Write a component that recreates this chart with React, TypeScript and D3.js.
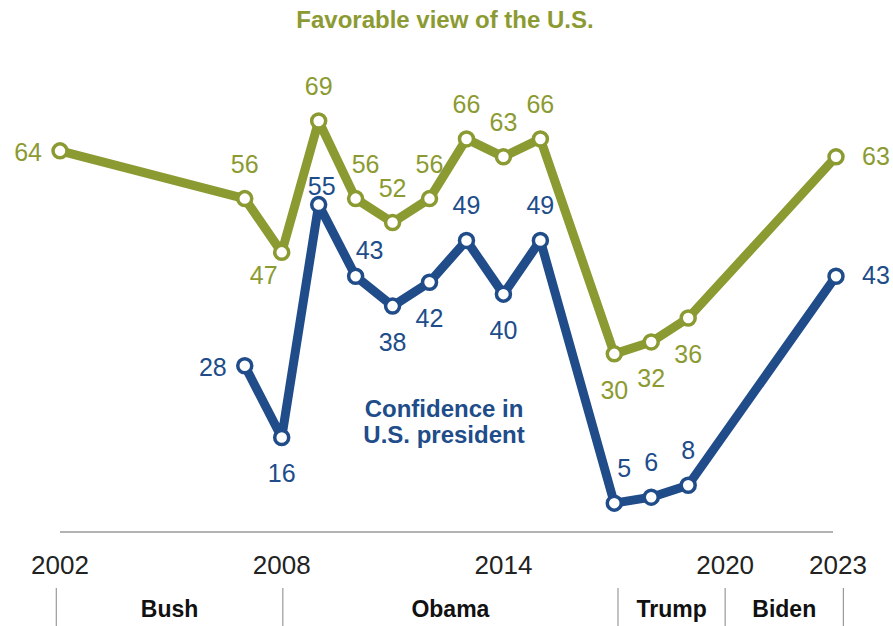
import React, { useEffect } from "react";
import * as d3 from "d3";

const favYears = [2002, 2007, 2008, 2009, 2010, 2011, 2012, 2013, 2014, 2015, 2017, 2018, 2019, 2023];
const favValues = [64, 56, 47, 69, 56, 52, 56, 66, 63, 66, 30, 32, 36, 63];
const favPlacement = ["left", "above", "belowLeft", "above", "aboveRight", "above", "above", "above", "above", "above", "below", "below", "below", "right"];

const confYears = [2007, 2008, 2009, 2010, 2011, 2012, 2013, 2014, 2015, 2017, 2018, 2019, 2023];
const confValues = [28, 16, 55, 43, 38, 42, 49, 40, 49, 5, 6, 8, 43];
const confPlacement = ["left", "below", "tightAbove", "upRight", "below", "below", "above", "below", "above", "aboveRight", "above", "above", "right"];

const yearTicks = [2002, 2008, 2014, 2020, 2023];
const presidents = ["Bush", "Obama", "Trump", "Biden"];
const termBounds = [2001.9, 2008.03, 2017.1, 2020, 2023.2];

const GREEN = "#8c9a32";
const BLUE = "#204c8a";
const FONT = "'Liberation Sans', Arial, sans-serif";

const offsets: Record<string, { dx: number; dy: number; anchor: string }> = {
  above: { dx: 0, dy: -26, anchor: "middle" },
  below: { dx: 0, dy: 45, anchor: "middle" },
  left: { dx: -18, dy: 10, anchor: "end" },
  right: { dx: 26, dy: 8, anchor: "start" },
  belowLeft: { dx: -18, dy: 32, anchor: "middle" },
  aboveRight: { dx: 10, dy: -26, anchor: "middle" },
  tightAbove: { dx: 3, dy: -10, anchor: "middle" },
  upRight: { dx: 14, dy: -17, anchor: "middle" },
};

export default function App() {
  useEffect(() => {
    document.body.style.margin = "0";
  }, []);

  const W = 893;
  const H = 626;
  const x = d3.scaleLinear().domain([2002, 2023]).range([60, 836]);
  const y = d3.scaleLinear().domain([0, 69]).range([533, 121]);

  const line = d3
    .line<[number, number]>()
    .x((d) => x(d[0]))
    .y((d) => y(d[1]));

  const fav: [number, number][] = favYears.map((yr, i) => [yr, favValues[i]]);
  const conf: [number, number][] = confYears.map((yr, i) => [yr, confValues[i]]);

  const renderSeries = (data: [number, number][], placement: string[], color: string, key: string) => (
    <g key={key}>
      <path d={line(data) || ""} fill="none" stroke={color} strokeWidth={9} strokeLinejoin="round" strokeLinecap="round" />
      {data.map((d, i) => (
        <circle key={i} cx={x(d[0])} cy={y(d[1])} r={7} fill="#fff" stroke={color} strokeWidth={3.5} />
      ))}
      {data.map((d, i) => {
        const o = offsets[placement[i]];
        return (
          <text
            key={"t" + i}
            x={x(d[0]) + o.dx}
            y={y(d[1]) + o.dy}
            textAnchor={o.anchor}
            fontFamily={FONT}
            fontSize={25}
            fill={color}
          >
            {d[1]}
          </text>
        );
      })}
    </g>
  );

  return (
    <svg width={W} height={H} style={{ position: "absolute", left: 0, top: 0, background: "#fff" }}>
      <text x={445} y={28} textAnchor="middle" fontFamily={FONT} fontWeight="bold" fontSize={24} fill={GREEN}>
        Favorable view of the U.S.
      </text>
      <line x1={60} x2={833} y1={532} y2={532} stroke="#999" strokeWidth={1.5} />
      {renderSeries(fav, favPlacement, GREEN, "fav")}
      {renderSeries(conf, confPlacement, BLUE, "conf")}
      <text textAnchor="middle" fontFamily={FONT} fontWeight="bold" fontSize={24} fill={BLUE}>
        <tspan x={444} y={417}>Confidence in</tspan>
        <tspan x={444} y={443}>U.S. president</tspan>
      </text>
      {yearTicks.map((yr) => (
        <text key={yr} x={yr === 2023 ? x(yr) + 2 : x(yr)} y={574} textAnchor="middle" fontFamily={FONT} fontSize={26} fill="#222">
          {yr}
        </text>
      ))}
      {termBounds.map((b, i) => (
        <line key={"b" + i} x1={x(b)} x2={x(b)} y1={588} y2={626} stroke="#999" strokeWidth={1.2} />
      ))}
      {presidents.map((p, i) => (
        <text
          key={p}
          x={(x(termBounds[i]) + x(termBounds[i + 1])) / 2}
          y={617}
          textAnchor="middle"
          fontFamily={FONT}
          fontWeight="bold"
          fontSize={23}
          fill="#111"
        >
          {p}
        </text>
      ))}
    </svg>
  );
}
